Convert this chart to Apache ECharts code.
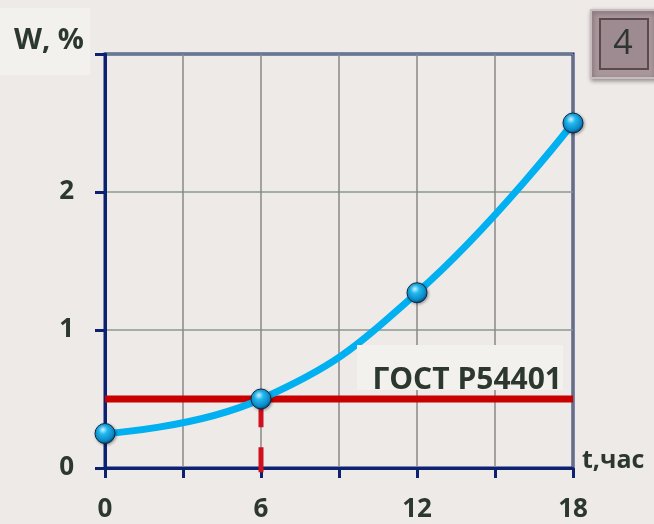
<!DOCTYPE html>
<html>
<head>
<meta charset="utf-8">
<script src="https://cdn.jsdelivr.net/npm/echarts@6/dist/echarts.min.js"></script>
<style>
  html, body { margin: 0; padding: 0; background: #edeae8; }
  #chart { width: 654px; height: 524px; }
</style>
</head>
<body>
<div id="chart"></div>
<script>
// Moisture W (%) versus time t (hours)
const hours = [0, 6, 12, 18];
const moisture = [0.25, 0.5, 1.27, 2.5];
// Standard limit (ГОСТ Р54401) and the time it is reached
const limitValue = 0.5;
const limitHour = 6;
const xLabels = [0, 6, 12, 18];
const yLabels = [0, 1, 2];

const navy = '#0c2270';
const textColor = '#2c372d';
const font = '"Open Sans", sans-serif';

const chart = echarts.init(document.getElementById('chart'), null, { renderer: 'canvas' });

const sphere = {
  type: 'radial', x: 0.4, y: 0.32, r: 0.72,
  colorStops: [
    { offset: 0, color: '#c8f4ff' },
    { offset: 0.3, color: '#22b8f0' },
    { offset: 0.75, color: '#0a88c4' },
    { offset: 1, color: '#06355f' }
  ]
};

chart.setOption({
  backgroundColor: '#edeae8',
  animation: false,
  grid: {
    left: 105, right: 81, top: 54, bottom: 56,
    show: true, borderColor: navy, borderWidth: 3
  },
  xAxis: {
    type: 'value', min: 0, max: 18, interval: 3,
    axisLine: { lineStyle: { color: navy, width: 3 } },
    axisTick: { show: true, length: 10, lineStyle: { color: navy, width: 3 } },
    splitLine: { show: true, lineStyle: { color: '#888888', width: 1.5 } },
    axisLabel: {
      margin: 29, color: textColor, fontFamily: font, fontWeight: 'bold', fontSize: 26,
      formatter: v => xLabels.includes(v) ? String(v) : ''
    },
    name: 't,час', nameLocation: 'end', nameGap: 9,
    nameTextStyle: { color: textColor, fontFamily: font, fontWeight: 'bold', fontSize: 25,
      align: 'left', verticalAlign: 'bottom', padding: [0, 0, -5, 0] }
  },
  yAxis: {
    type: 'value', min: 0, max: 3, interval: 1,
    axisLine: { lineStyle: { color: navy, width: 3 } },
    axisTick: { show: true, length: 10, lineStyle: { color: navy, width: 3 } },
    splitLine: { show: true, lineStyle: { color: '#8a978f', width: 1.5 } },
    axisLabel: {
      margin: 31, color: textColor, fontFamily: font, fontWeight: 'bold', fontSize: 26,
      formatter: v => yLabels.includes(v) ? String(v) : ''
    }
  },
  series: [
    {
      name: 'W', type: 'line', smooth: 0.45,
      data: hours.map((h, i) => [h, moisture[i]]),
      lineStyle: { color: '#00b0f0', width: 7 },
      symbol: 'circle', symbolSize: 20,
      itemStyle: { color: sphere, borderColor: '#0a2a4c', borderWidth: 1,
        shadowColor: 'rgba(0,0,0,0.35)', shadowBlur: 3, shadowOffsetX: 1, shadowOffsetY: 1 },
      z: 4
    },
    {
      name: 'limit', type: 'line', z: 3, silent: true,
      data: [[hours[0], limitValue], [hours[hours.length - 1], limitValue]],
      lineStyle: { color: '#c80000', width: 7 },
      symbol: 'none'
    },
    {
      name: 'limitTime', type: 'line', z: 2, silent: true, clip: false,
      data: [[limitHour, -0.03], [limitHour, limitValue]],
      lineStyle: { color: '#d0101e', width: 5, type: [25, 20] },
      symbol: 'none'
    }
  ]
});

// Decorations: axis title plate, slide number plate, and the caption of the limit line
const anchor = chart.convertToPixel({ gridIndex: 0 }, [hours[hours.length - 1], limitValue]);
chart.setOption({
  graphic: [
    { type: 'rect', left: 0, top: 8, shape: { width: 90, height: 67 }, style: { fill: '#f2f1ee' }, z: 5 },
    { type: 'text', left: 14, top: 26, z: 6,
      style: { text: 'W, %', fill: textColor, font: 'bold 29px ' + font } },
    { type: 'rect', left: 590, top: 9, z: 5,
      shape: { width: 64, height: 68 },
      style: { fill: '#a8969b', stroke: '#c9bcc0', lineWidth: 2,
        shadowColor: 'rgba(0,0,0,0.35)', shadowBlur: 4, shadowOffsetX: 1, shadowOffsetY: 2 } },
    { type: 'rect', left: 599, top: 18, z: 6,
      shape: { width: 48, height: 50 },
      style: { fill: '#9e8b91', stroke: '#5a4a50', lineWidth: 2 } },
    { type: 'text', z: 7, x: 623, y: 44,
      style: { text: '4', fill: '#2f3530', font: '34px ' + font, align: 'center', verticalAlign: 'middle' } },
    { type: 'rect', z: 5, x: anchor[0] - 216, y: anchor[1] - 54,
      shape: { width: 206, height: 45 }, style: { fill: '#f2f1ee' } },
    { type: 'text', z: 6, x: anchor[0] - 11, y: anchor[1] - 4,
      style: { text: 'ГОСТ Р54401', fill: textColor, font: 'bold 30px ' + font,
        align: 'right', verticalAlign: 'bottom' } }
  ]
});
</script>
</body>
</html>
